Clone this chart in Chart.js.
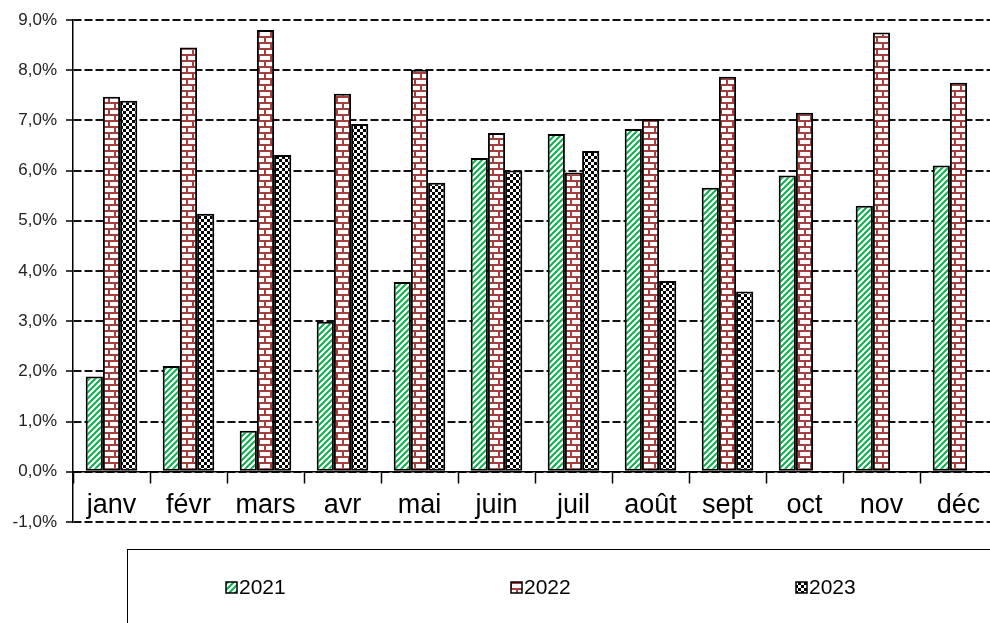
<!DOCTYPE html>
<html>
<head>
<meta charset="utf-8">
<script src="https://cdn.jsdelivr.net/npm/chart.js@4/dist/chart.umd.min.js"></script>
<style>
  html, body { margin: 0; padding: 0; background: #fff; overflow: hidden; }
  #wrap { width: 990px; height: 623px; overflow: hidden; }
</style>
</head>
<body>
<div id="wrap">
  <canvas id="chart" width="1080" height="623"></canvas>
</div>
<script>
// données (taux mensuels en %)
const mois = ['janv', 'févr', 'mars', 'avr', 'mai', 'juin', 'juil', 'août', 'sept', 'oct', 'nov', 'déc'];
const annees = ['2021', '2022', '2023'];
const valeurs2021 = [1.9, 2.11, 0.82, 2.99, 3.78, 6.25, 6.73, 6.83, 5.66, 5.9, 5.3, 6.1];
const valeurs2022 = [7.47, 8.45, 8.8, 7.53, 8.01, 6.75, 5.96, 7.03, 7.87, 7.15, 8.75, 7.75];
const valeurs2023 = [7.39, 5.14, 6.31, 6.93, 5.76, 6.0, 6.39, 3.8, 3.59, null, null, null];
const graduations = { min: -1, max: 9, pas: 1 };

const police = 'Liberation Sans, Arial, sans-serif';

// motifs de remplissage (hachures, briques, damier)
function motifHachures() {
  const c = document.createElement('canvas');
  c.width = 6; c.height = 6;
  const ctx = c.getContext('2d');
  ctx.fillStyle = '#fff';
  ctx.fillRect(0, 0, 6, 6);
  ctx.strokeStyle = '#0bb04c';
  ctx.lineWidth = 2;
  ctx.beginPath();
  ctx.moveTo(-1, 7); ctx.lineTo(7, -1);
  ctx.moveTo(-4, 4); ctx.lineTo(4, -4);
  ctx.moveTo(2, 10); ctx.lineTo(10, 2);
  ctx.stroke();
  return ctx.createPattern(c, 'repeat');
}

function motifBriques() {
  const c = document.createElement('canvas');
  c.width = 12; c.height = 12;
  const ctx = c.getContext('2d');
  ctx.fillStyle = '#fff';
  ctx.fillRect(0, 0, 12, 12);
  ctx.fillStyle = '#a43f3d';
  ctx.fillRect(0, 0, 12, 2);
  ctx.fillRect(0, 6, 12, 2);
  ctx.fillRect(0, 0, 2, 6);
  ctx.fillRect(6, 6, 2, 6);
  return ctx.createPattern(c, 'repeat');
}

function motifDamier() {
  const c = document.createElement('canvas');
  c.width = 6; c.height = 6;
  const ctx = c.getContext('2d');
  ctx.fillStyle = '#fff';
  ctx.fillRect(0, 0, 6, 6);
  ctx.fillStyle = '#000';
  ctx.fillRect(0, 0, 3, 3);
  ctx.fillRect(3, 3, 3, 3);
  return ctx.createPattern(c, 'repeat');
}

const motifs = [motifHachures(), motifBriques(), motifDamier()];

// légende encadrée dessinée sous le graphique
const legendeEncadree = {
  id: 'legendeEncadree',
  afterDraw(chart) {
    const ctx = chart.ctx;
    ctx.save();
    ctx.strokeStyle = '#000';
    ctx.lineWidth = 1;
    ctx.strokeRect(127.5, 549.5, 1100, 200);
    ctx.font = '21px ' + police;
    ctx.textBaseline = 'middle';
    chart.data.datasets.forEach((ds, i) => {
      const x = 226 + i * 285;
      const y = 588;
      ctx.fillStyle = ds.backgroundColor;
      ctx.fillRect(x, y - 6, 11, 11);
      ctx.strokeStyle = '#000';
      ctx.lineWidth = 1.5;
      ctx.strokeRect(x, y - 6, 11, 11);
      ctx.fillStyle = '#000';
      ctx.fillText(ds.label, x + 13, y);
    });
    ctx.restore();
  }
};

const series = [valeurs2021, valeurs2022, valeurs2023];

new Chart(document.getElementById('chart'), {
  type: 'bar',
  data: {
    labels: mois,
    datasets: annees.map((a, i) => ({
      label: a,
      data: series[i],
      backgroundColor: motifs[i],
      borderColor: '#000',
      borderWidth: 2,
      borderSkipped: false,
      barPercentage: 1.0,
      categoryPercentage: 0.67
    }))
  },
  options: {
    responsive: false,
    animation: false,
    layout: { padding: { top: 20, right: 83, bottom: 101, left: 0 } },
    plugins: {
      legend: { display: false },
      tooltip: { enabled: false }
    },
    scales: {
      x: {
        position: { y: 0 },
        offset: true,
        grid: {
          display: true,
          offset: true,
          drawOnChartArea: false,
          drawTicks: true,
          tickLength: 11,
          tickColor: '#000',
          tickWidth: 1.5,
          color: '#000'
        },
        border: { display: true, color: '#000', width: 1.5 },
        ticks: {
          color: '#000',
          padding: 7,
          font: { family: police, size: 27 }
        }
      },
      y: {
        min: graduations.min,
        max: graduations.max,
        afterFit(scale) { scale.width = 73; },
        ticks: {
          stepSize: graduations.pas,
          color: '#222',
          padding: 9,
          font: { family: police, size: 17 },
          callback: v => v.toFixed(1).replace('.', ',') + '%'
        },
        grid: {
          color: '#111',
          lineWidth: 2,
          tickLength: 7,
          tickColor: '#000',
          tickWidth: 1.5,
          tickBorderDash: []
        },
        border: { display: true, color: '#000', width: 1.5, dash: [8, 3] }
      }
    }
  },
  plugins: [legendeEncadree]
});
</script>
</body>
</html>
